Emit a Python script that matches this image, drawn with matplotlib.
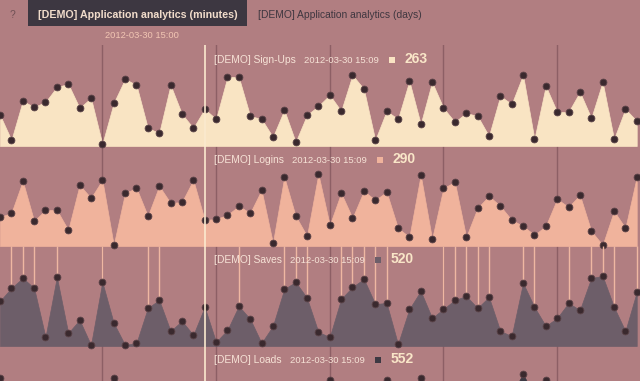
import matplotlib
matplotlib.use("Agg")
import matplotlib.pyplot as plt
from matplotlib.patches import Rectangle

W, H, DPI = 640, 381, 100

# ---------------- data ----------------
series_names = ["[DEMO] Sign-Ups", "[DEMO] Logins", "[DEMO] Saves", "[DEMO] Loads"]
current_values = [263, 290, 520, 552]
current_time = "2012-03-30 15:09"
axis_tick_label = "2012-03-30 15:00"
tab_active = "[DEMO] Application analytics (minutes)"
tab_inactive = "[DEMO] Application analytics (days)"
help_mark = "?"

signups = [31, 6, 45, 39, 44, 59, 62, 38, 48, 2, 43, 67, 61, 18, 13, 61, 32, 18, 37, 27,
           69, 69, 30, 27, 9, 36, 4, 31, 40, 51, 35, 71, 57, 6, 35, 27, 65, 22, 64, 38,
           24, 33, 30, 10, 50, 42, 71, 7, 60, 34, 34, 54, 28, 64, 7, 37, 25]
logins = [29, 33, 65, 25, 36, 36, 16, 61, 48, 66, 1, 53, 58, 30, 60, 43, 44, 66, 26, 27,
          31, 40, 33, 56, 3, 69, 30, 10, 72, 21, 53, 28, 55, 46, 54, 18, 9, 71, 7, 58,
          64, 9, 38, 50, 40, 26, 20, 11, 20, 47, 39, 51, 15, 1, 35, 18, 69]
saves = [45, 58, 68, 58, 9, 69, 13, 26, 1, 64, 23, 1, 3, 38, 46, 15, 25, 11, 39, 4,
         16, 40, 27, 3, 20, 57, 64, 48, 14, 9, 47, 59, 67, 42, 43, 2, 37, 55, 28, 37,
         46, 50, 38, 49, 15, 10, 63, 39, 20, 28, 43, 36, 68, 70, 39, 15, 54]
loads = [68, 50, 35, 42, 28, 40, 55, 45, 30, 52, 68, 48, 38, 25, 44, 50, 33, 40, 58, 45,
         30, 42, 55, 36, 48, 40, 28, 52, 45, 66, 50, 38, 44, 56, 66, 42, 50, 68, 40, 30,
         46, 55, 35, 28, 44, 52, 72, 50, 66, 40, 48, 35, 55, 42, 30, 46, 52]
saves_rule_idx = [1, 2, 3, 5, 9, 13, 14, 21, 25, 26, 27, 30, 31, 32, 33, 34, 39, 40, 41,
                  42, 43, 46, 47, 50, 52, 53, 54, 56]
grid_idx = [9, 19, 29, 39, 49]
tick_idx = 9
cursor_idx = 18

# ---------------- style ----------------
BG = "#b17e81"
FILLS = ["#f9e4c3", "#f0b39c", "#6d5e69", "#3d3943"]
DOT = "#3a292e"
DOT_EDGE = "#5a4247"
GRID = "#8d5f65"
CURSOR = "#fbeacf"
LABEL = "#f6e2d6"
NUMBER = "#f9e6c8"
FONT = "Liberation Sans"

STEP = 11.37          # pixels per sample
XLIM = (0, W / STEP)
ROW_TOP0, ROW_H = 46, 100

fig = plt.figure(figsize=(W / DPI, H / DPI), dpi=DPI, facecolor=BG)


def px_rect(x0, top, w, h):
    return [x0 / W, 1 - (top + h) / H, w / W, h / H]


# grid lines (behind fills)
gax = fig.add_axes(px_rect(0, 45, W, H - 45))
gax.set_xlim(XLIM); gax.set_ylim(0, 1); gax.axis("off"); gax.set_zorder(0)
for i in grid_idx:
    gax.axvline(i, color=GRID, lw=1)

rows = [signups, logins, saves, loads]
for k, vals in enumerate(rows):
    top = ROW_TOP0 + k * ROW_H
    ax = fig.add_axes(px_rect(0, top, W, ROW_H))
    ax.set_zorder(1 + k)
    ax.axis("off")
    ax.set_xlim(XLIM); ax.set_ylim(0, ROW_H)
    x = list(range(len(vals)))
    if k == 2:
        ax.vlines(saves_rule_idx, [vals[i] for i in saves_rule_idx], ROW_H,
                  color="#efb7a2", lw=1)
    ax.fill_between(x, 0, vals, color=FILLS[k], lw=0.5, ec=FILLS[k])
    ax.plot(x, vals, "o", ls="none", ms=4.9, mfc=DOT, mec=DOT_EDGE, mew=0.6,
            clip_on=False)

# cursor line
cax = fig.add_axes(px_rect(0, 45, W, H - 45))
cax.set_xlim(XLIM); cax.set_ylim(0, 1); cax.axis("off"); cax.set_zorder(10)
cax.axvline(cursor_idx, color=CURSOR, lw=1.2)
# tick label
cax.annotate(axis_tick_label, xy=(tick_idx, 1), xycoords="data",
             xytext=(3, 7), textcoords="offset pixels", ha="left", va="baseline",
             fontsize=6.7, color="#f2c6b3", family=FONT, annotation_clip=False)

# overlay in pixel units
oax = fig.add_axes([0, 0, 1, 1])
oax.set_xlim(0, W); oax.set_ylim(H, 0); oax.axis("off"); oax.set_zorder(11)
oax.add_patch(Rectangle((28, 0), 219, 26, color="#3d3741", lw=0))
oax.text(38, 18.3, tab_active, fontsize=7.7, weight="bold", color="#f1dccb",
         family=FONT, va="baseline", ha="left")
oax.text(258, 18.3, tab_inactive, fontsize=7.4, color="#3f3740",
         family=FONT, va="baseline", ha="left")
oax.text(10, 18.3, help_mark, fontsize=7.4, color="#6e5054",
         family=FONT, va="baseline", ha="left")

renderer = fig.canvas.get_renderer()


def put(x, y, s, **kw):
    t = oax.text(x, y, s, va="baseline", ha="left", family=FONT, **kw)
    return x + t.get_window_extent(renderer=renderer).width


for k in range(4):
    base = ROW_TOP0 + k * ROW_H + 17
    x = put(214, base, series_names[k], fontsize=7.4, color=LABEL)
    x = put(x + 8, base, current_time, fontsize=6.8, color=LABEL)
    x += 10
    oax.add_patch(Rectangle((x, base - 6), 6, 6, color=FILLS[k], lw=0))
    x += 16
    put(x, base, str(current_values[k]), fontsize=10, weight="bold", color=NUMBER)

fig.savefig("out.png", dpi=DPI, facecolor=BG)
